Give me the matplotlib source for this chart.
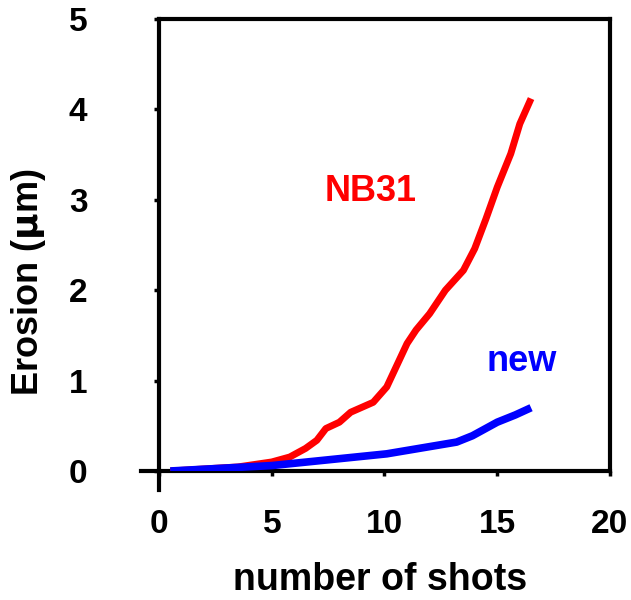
import matplotlib
matplotlib.use("Agg")
import matplotlib.pyplot as plt
from matplotlib.lines import Line2D

plt.rcParams['font.family'] = ['Liberation Sans', 'DejaVu Sans']
plt.rcParams['font.weight'] = 'bold'
plt.rcParams['mathtext.default'] = 'bf'

# Erosion vs number of shots
nb31_shots = [0.5, 3.5, 5.0, 5.8, 6.5, 7.0, 7.4, 8.0, 8.5, 9.5, 10.1, 11.0,
              11.4, 12.0, 12.7, 13.5, 14.0, 14.5, 15.0, 15.6, 16.0, 16.5]
nb31_erosion = [0.0, 0.045, 0.10, 0.155, 0.25, 0.34, 0.47, 0.54, 0.65, 0.76, 0.93, 1.41,
                1.56, 1.74, 2.00, 2.22, 2.46, 2.79, 3.14, 3.51, 3.84, 4.12]

new_shots = [0.5, 5.0, 10.1, 13.2, 13.9, 15.0, 15.8, 16.5]
new_erosion = [0.0, 0.06, 0.19, 0.32, 0.39, 0.54, 0.62, 0.70]

x_ticks = [0, 5, 10, 15, 20]
y_ticks = [0, 1, 2, 3, 4, 5]

fig = plt.figure(figsize=(6.31, 6.0), dpi=100)
ax = fig.add_axes([0.252, 0.215, 0.7147, 0.7533])

ax.plot(nb31_shots, nb31_erosion, color='#ff0000', lw=5.0, solid_capstyle='butt',
        solid_joinstyle='round', zorder=3)
ax.plot(new_shots, new_erosion, color='#0000ff', lw=5.5, solid_capstyle='butt',
        solid_joinstyle='round', zorder=4)

ax.text(9.4, 3.09, 'NB31', color='#ff0000', fontsize=26, fontweight='bold',
        ha='center', va='center')
ax.text(16.1, 1.21, 'new', color='#0000ff', fontsize=26, fontweight='bold',
        ha='center', va='center')

ax.set_xlim(0, 20)
ax.set_ylim(0, 5)
ax.set_xticks(x_ticks)
ax.set_yticks(y_ticks)
ax.set_xticklabels([str(v) for v in x_ticks])
ax.set_yticklabels([str(v) for v in y_ticks])

for s in ax.spines.values():
    s.set_linewidth(3)
ax.tick_params(axis='both', direction='out', length=3.5, width=2.5,
               labelsize=24)
ax.tick_params(axis='x', pad=24)
ax.tick_params(axis='y', pad=48)
for lab in ax.get_xticklabels() + ax.get_yticklabels():
    lab.set_fontweight('bold')

# axis lines crossing past the origin
ax.add_line(Line2D([0, 0], [0, -0.042], transform=ax.transAxes, color='black',
                   lw=3, clip_on=False))
ax.add_line(Line2D([0, -0.04], [0, 0], transform=ax.transAxes, color='black',
                   lw=3, clip_on=False))

fig.text(0.603, 0.033, 'number of shots', fontsize=27, fontweight='bold',
         ha='center', va='center')
fig.text(0.045, 0.53, r'Erosion ($\mu$m)', fontsize=26, fontweight='bold',
         ha='center', va='center', rotation=90)

fig.savefig('out.png', dpi=100)
